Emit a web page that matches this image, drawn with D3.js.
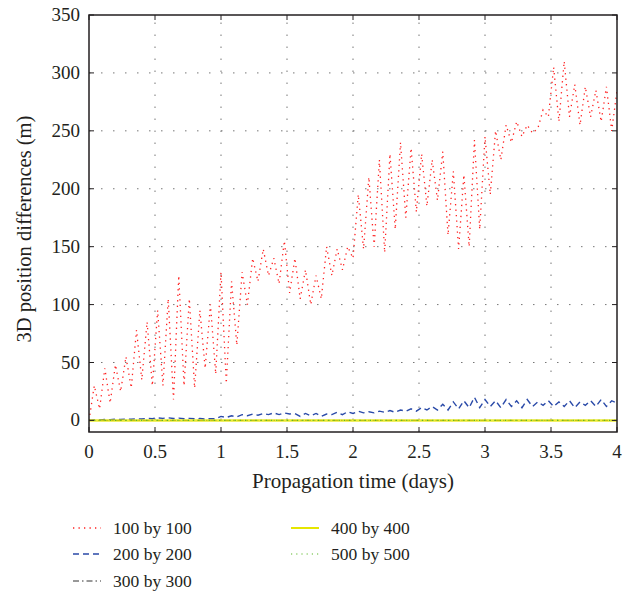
<!DOCTYPE html>
<html><head><meta charset="utf-8">
<script src="https://cdn.jsdelivr.net/npm/d3@7/dist/d3.min.js"></script>
<style>body{margin:0;background:#fff}</style>
</head><body><svg id="c" width="635" height="593"></svg>
<script>
// ---- data ----
const seriesNames = ["100 by 100","200 by 200","300 by 300","400 by 400","500 by 500"];
const xTicks = [0,0.5,1,1.5,2,2.5,3,3.5,4];
const xTickLabels = ["0","0.5","1","1.5","2","2.5","3","3.5","4"];
const yTicks = [0,50,100,150,200,250,300,350];
// time grid (days), step 0.04
const time = d3.range(0, 101).map(i => +(i*0.04).toFixed(2));
const v100 = [0,30,10,45,15,48,25,55,28,78,
  35,85,30,95,30,105,18,125,30,105,
  28,95,45,100,40,128,32,120,65,128,
  100,140,120,148,125,140,118,155,110,140,
  105,130,100,125,105,150,125,148,130,150,
  140,195,148,210,150,225,145,230,165,240,
  175,235,180,230,185,225,190,232,160,215,
  148,212,150,242,165,245,195,250,225,255,
  240,258,245,255,248,252,268,262,305,258,
  310,262,290,255,288,262,285,258,288,250,285];
const v200 = [0,0.5,0.3,0.8,0.6,1,0.8,1.2,1,1.5,
  1.2,1.8,1.5,2.2,1.8,2.2,1.6,2.0,1.5,1.8,
  1.4,1.6,1.2,1.5,1.4,3.5,2.5,4,3,5,
  4,5.5,4.5,6,5,6.5,5,6.5,5.5,6,
  3.5,6,4,6,3.5,5.5,5,7,5,7.5,
  6,8,6.5,7.5,6.5,8,7,8.5,7,9,
  8,10,8,11,9,12,9,14,9,16,
  10,17,11,20,11,18,12,17,11,18,
  12,17,11,18,12,16,13,17,12,16,
  12,17,11,16,13,17,12,18,12,17,15];
const timeFlat = [0,0.5,1,1.5,2,2.5,3,3.5,4];
const v300 = [0,0,0,0,0,0,0,0,0];
const v400 = [0,0,0,0,0,0,0,0,0];
const v500 = [0,0,0,0,0,0,0,0,0];

// ---- layout ----
const L=89, R=617, T=15, B=432;
const svg = d3.select("#c");
const x = d3.scaleLinear().domain([0,4]).range([L,R]);
const y = d3.scaleLinear().domain([-10,350]).range([B,T]);
const font = "'Liberation Serif','Times New Roman',serif";
const ink = "#231f20";

// grid
const g = svg.append("g");
g.selectAll(".gx").data(xTicks.slice(1,-1)).enter().append("line")
  .attr("x1",d=>x(d)).attr("x2",d=>x(d)).attr("y1",B).attr("y2",T)
  .attr("stroke","#777").attr("stroke-width",1).attr("stroke-dasharray","1.5,10.5");
g.selectAll(".gy").data(yTicks.slice(0,-1)).enter().append("line")
  .attr("x1",L).attr("x2",R).attr("y1",d=>y(d)).attr("y2",d=>y(d))
  .attr("stroke","#777").attr("stroke-width",1).attr("stroke-dasharray","1.5,10.5");

const line = d3.line().x(d=>x(d[0])).y(d=>y(d[1]));
const styles = [
  {c:"#ff2020", w:1.3, dash:"1.3,4.2"},
  {c:"#2a4aa8", w:1.4, dash:"6,4"},
  {c:"#333", w:1, dash:"6,3,1.5,3"},
  {c:"#e6e600", w:2, dash:null},
  {c:"#5cb82a", w:1.2, dash:"1.2,4"}
];
const data = [
  time.map((t,i)=>[t,v100[i]]),
  time.map((t,i)=>[t,v200[i]]),
  timeFlat.map((t,i)=>[t,v300[i]]),
  timeFlat.map((t,i)=>[t,v400[i]]),
  timeFlat.map((t,i)=>[t,v500[i]])
];
svg.append("clipPath").attr("id","cp").append("rect")
  .attr("x",L).attr("y",T).attr("width",R-L).attr("height",B-T);
data.forEach((d,i)=>{
  const p = svg.append("path").attr("d",line(d)).attr("fill","none")
    .attr("stroke",styles[i].c).attr("stroke-width",i===3?2.5:styles[i].w)
    .attr("clip-path","url(#cp)");
  if(styles[i].dash) p.attr("stroke-dasharray",styles[i].dash);
  if(i===3) p.attr("opacity",0.8);
});

// axes
const ax = svg.append("g").attr("font-family",font).attr("font-size",19).attr("fill",ink);
ax.append("rect").attr("x",L).attr("y",T).attr("width",R-L).attr("height",B-T)
  .attr("fill","none").attr("stroke",ink).attr("stroke-width",1.5);
const tk=5;
xTicks.forEach(d=>{
  ax.append("line").attr("x1",x(d)).attr("x2",x(d)).attr("y1",B).attr("y2",B-tk).attr("stroke",ink);
  ax.append("line").attr("x1",x(d)).attr("x2",x(d)).attr("y1",T).attr("y2",T+tk).attr("stroke",ink);
});
yTicks.forEach(d=>{
  ax.append("line").attr("x1",L).attr("x2",L+tk).attr("y1",y(d)).attr("y2",y(d)).attr("stroke",ink);
  ax.append("line").attr("x1",R).attr("x2",R-tk).attr("y1",y(d)).attr("y2",y(d)).attr("stroke",ink);
});
ax.selectAll(".xl").data(xTicks).enter().append("text")
  .attr("x",d=>x(d)).attr("y",B+26).attr("text-anchor","middle").text((d,i)=>xTickLabels[i]);
ax.selectAll(".yl").data(yTicks).enter().append("text")
  .attr("x",L-9).attr("y",d=>y(d)+6).attr("text-anchor","end").text(d=>d);
ax.append("text").attr("x",(L+R)/2).attr("y",488).attr("text-anchor","middle")
  .attr("font-size",21).text("Propagation time (days)");
ax.append("text").attr("transform","translate(31,229) rotate(-90)").attr("text-anchor","middle")
  .attr("font-size",20.5).text("3D position differences (m)");

// legend
const leg = svg.append("g").attr("font-family",font).attr("font-size",17.5).attr("fill",ink);
const lpos = [[73,528],[73,554],[73,581],[291,528],[291,554]];
seriesNames.forEach((n,i)=>{
  const [lx,ly]=lpos[i];
  const p = leg.append("line").attr("x1",lx).attr("x2",lx+28).attr("y1",ly).attr("y2",ly)
    .attr("stroke",styles[i].c).attr("stroke-width",styles[i].w);
  if(styles[i].dash) p.attr("stroke-dasharray",styles[i].dash);
  leg.append("text").attr("x",lx+40).attr("y",ly+6).text(n);
});
</script></body></html>
